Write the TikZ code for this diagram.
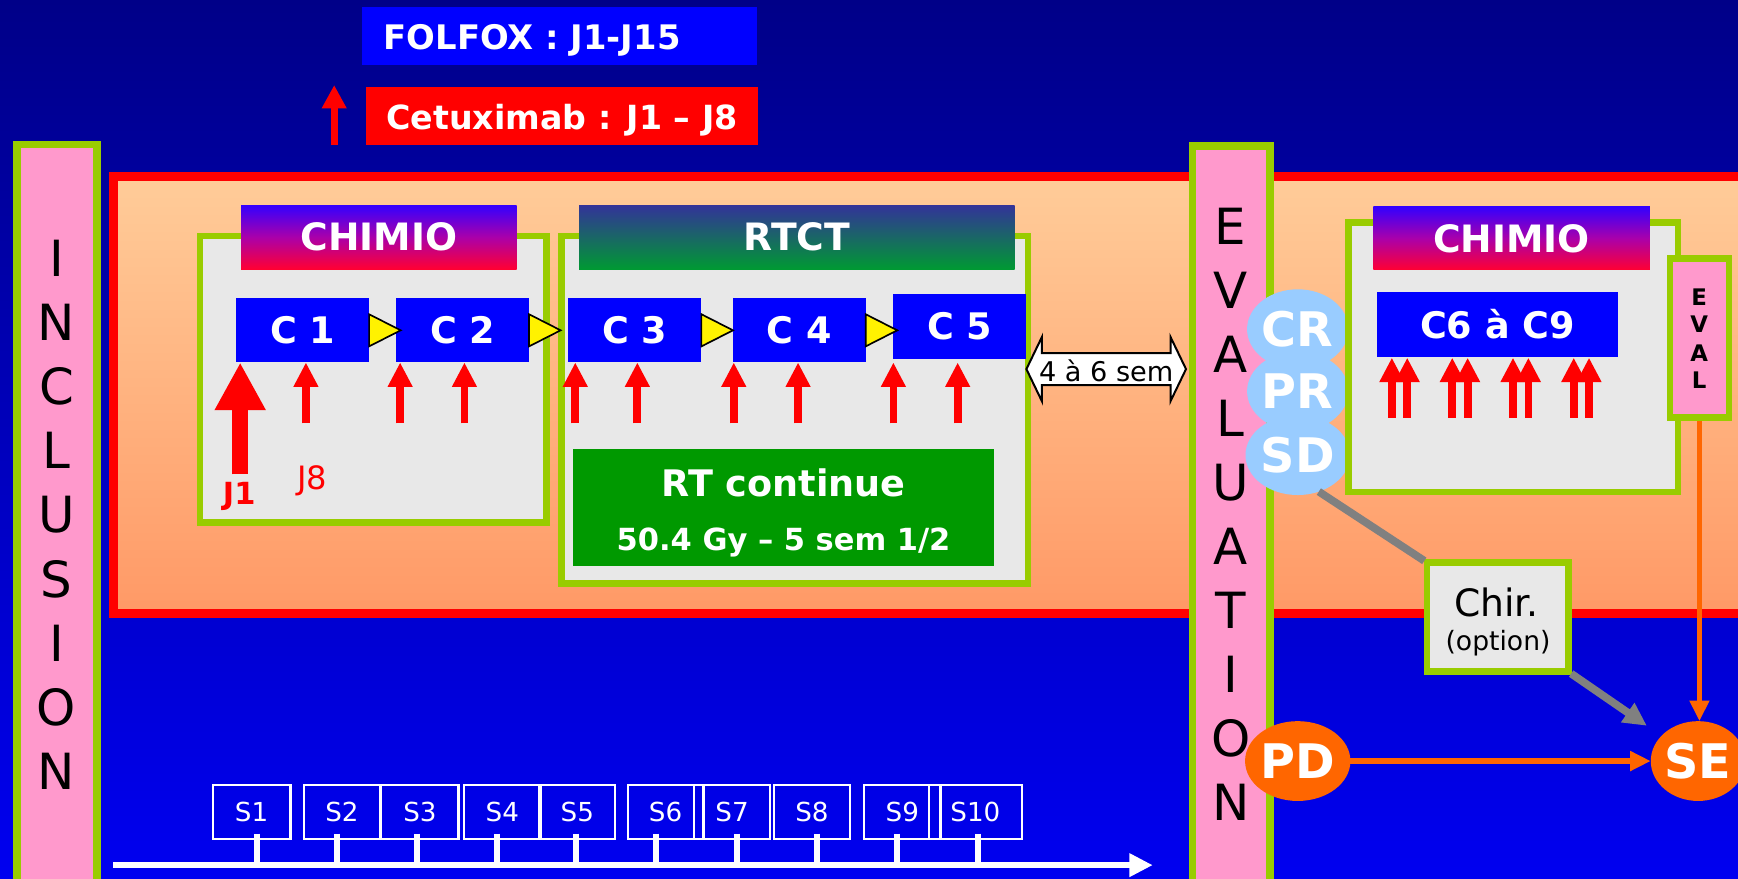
\documentclass[tikz,border=0pt]{standalone}
\usepackage{fontspec}
\setmainfont{DejaVu Sans}
\usetikzlibrary{arrows.meta,shapes.geometric,calc}
\newcommand\setfs[1]{\fontsize{#1}{#1}\selectfont}
\definecolor{bgtop}{RGB}{0,0,136}
\definecolor{bgbot}{RGB}{0,0,240}
\definecolor{peachtop}{RGB}{255,204,153}
\definecolor{peachbot}{RGB}{255,153,102}
\definecolor{lgray}{RGB}{232,232,232}
\definecolor{grn}{RGB}{153,204,0}
\definecolor{pnk}{RGB}{255,153,204}
\definecolor{cblue}{RGB}{0,0,255}
\definecolor{rtgreen}{RGB}{0,153,0}
\definecolor{lblue}{RGB}{153,204,255}
\definecolor{orng}{RGB}{255,102,0}
\definecolor{chtop}{RGB}{51,0,255}
\definecolor{chmid}{RGB}{170,0,170}
\definecolor{chbot}{RGB}{255,0,51}
\definecolor{rttop}{RGB}{51,51,153}
\definecolor{rtbot}{RGB}{0,153,51}
\definecolor{grayc}{RGB}{128,128,128}
\begin{document}
\begin{tikzpicture}[x=1pt,y=-1pt,
  every node/.style={outer sep=0pt},
  colbox/.style={draw=grn, line width=7pt, fill=pnk, inner sep=0pt},
  graybox/.style={draw=grn, line width=6pt, fill=lgray, inner sep=0pt},
  cbox/.style={fill=cblue, text=white, font=\setfs{33}\bfseries, inner sep=0pt, minimum width=120pt, minimum height=58pt},
  chtitle/.style={top color=chtop, bottom color=chbot, middle color=chmid, text=white, font=\setfs{34}\bfseries, inner sep=0pt},
  rttitle/.style={top color=rttop, bottom color=rtbot, text=white, font=\setfs{34}\bfseries, inner sep=0pt},
  tri/.style={draw=black, line width=1.5pt, fill=yellow, line join=miter},
  redarr/.style={draw=red, line width=7pt, -{Triangle[width=21pt,length=22pt]}},
  bigredarr/.style={draw=red, line width=14.4pt, -{Triangle[width=43pt,length=43pt]}},
  bigletter/.style={font=\setfs{45}, text=black, inner sep=0pt},
  bubble/.style={ellipse, fill=lblue, text=white, font=\setfs{43}\bfseries, minimum width=85.4pt, minimum height=72pt, inner sep=0pt},
  obubble/.style={bubble, fill=orng},
  orarr/.style={draw=orng, line width=5pt, -{Triangle[width=17pt,length=18.6pt]}},
  grayline/.style={draw=grayc, line width=7pt},
  grayarr/.style={draw=grayc, line width=7pt, -{Triangle[width=20pt,length=21pt]}},
  sbox/.style={draw=white, line width=2pt, text=white, font=\setfs{23.6}, inner sep=0pt, minimum height=49pt},
  tickline/.style={draw=white, line width=5.5pt},
]
\useasboundingbox (0,0) rectangle (1568,793);
\clip (0,0) rectangle (1568,793);
\shade[top color=bgtop,bottom color=bgbot] (0,0) rectangle (1568,793);

% main band
\path[draw=red,line width=8pt,top color=peachtop,bottom color=peachbot] (102.5,159) rectangle (1640,553.6);

% INCLUSION column
\node[colbox, minimum width=72pt, minimum height=690pt, anchor=north] (incl) at (51.5,130.3) {};
\foreach \l [count=\i] in {I,N,C,L,U,S,I,O,N}
  \node[bigletter] (incl\i) at (51, 232.6+57.95*\i-57.95) {\l};

% CHIMIO 1
\node[graybox, minimum width=312.6pt, minimum height=258.6pt] (g1) at (336.7,342.3) {};
\node[chtitle, minimum width=248.5pt, minimum height=57.7pt] (t1) at (341.75,213.85) {CHIMIO};
\node[cbox] (c1) at (273,298) {C 1};
\node[cbox] (c2) at (417.3,298) {C 2};

% RTCT
\node[graybox, minimum width=420.9pt, minimum height=313.6pt] (g2) at (717,369.8) {};
\node[rttitle, minimum width=392.9pt, minimum height=57.7pt] (t2) at (719,213.85) {RTCT};
\node[cbox] (c3) at (572.8,298) {C 3};
\node[cbox] (c4) at (721,298) {C 4};
\node[cbox, minimum height=59pt] (c5) at (865.8,294.5) {C 5};

\foreach \c in {c1,c2,c3,c4}
  \draw[tri] ($(\c.east)+(0,-14.5)$) -- ($(\c.east)+(28.5,0)$) -- ($(\c.east)+(0,14.5)$) -- cycle;

\foreach \x in {276,361,419,519,575,662,720,806,864}
  \draw[redarr] (\x,382) -- (\x,327);
\draw[bigredarr] (216.7,428) -- (216.7,327);
\node[anchor=base, text=red, font=\setfs{27.5}\bfseries, inner sep=0pt] (j1) at (215.8,454.7) {J1};
\node[anchor=base, text=red, font=\setfs{29}, inner sep=0pt] (j8) at (281.5,442) {J8};

\node[fill=rtgreen, minimum width=380.2pt, minimum height=106pt, inner sep=0pt] (rt) at (706.9,458) {};
\node[text=white, font=\setfs{33}\bfseries, inner sep=0pt] (rt1) at (706.9,435.2) {RT continue};
\node[anchor=base, text=white, font=\setfs{27.5}\bfseries, inner sep=0pt] (rt2) at (706.9,496.4) {50.4 Gy – 5 sem 1/2};

% gap arrow
\draw[line width=1.8pt, fill=white, line join=miter] (926,333) -- (940,304) -- (940,318.5) -- (1056,318.5) -- (1056,304) -- (1070,333) -- (1056,362) -- (1056,347.5) -- (940,347.5) -- (940,362) -- cycle;
\node[font=\setfs{24.5}, inner sep=0pt] (gap) at (998,334.5) {4 à 6 sem};

% EVALUATION column
\node[colbox, minimum width=69.6pt, minimum height=680pt, anchor=north] (evalcol) at (1110.7,131.5) {};
\foreach \l [count=\i] in {E,V,A,L,U,A,T,I,O,N}
  \node[bigletter] (ev\i) at (1110.3, 204.5+57.7*\i-57.7) {\l};

\node[bubble] (cr) at (1170.8,297) {CR};
\node[bubble] (pr) at (1170.8,353) {PR};
\node[bubble] (sd) at (1170.8,410.6) {SD};

% CHIMIO 2
\node[graybox, minimum width=297.5pt, minimum height=243pt] (g3) at (1365.25,322.5) {};
\node[chtitle, minimum width=249.5pt, minimum height=57pt] (t3) at (1363.75,215) {CHIMIO};
\node[cbox, minimum width=218pt, minimum height=58pt] (c69) at (1351,292.75) {C6 à C9};
\foreach \x in {1255.7,1269.6,1310.2,1324.1,1365,1378.9,1419.8,1433.6}
  \draw[redarr] (\x,377) -- (\x,322.7);

% EVAL box
\node[colbox, line width=6pt, minimum width=53.2pt, minimum height=143.5pt] (eval) at (1533.2,304.75) {};
\foreach \l/\y in {E/267.7,V/292.5,A/318.5,L/343}
  \node[font=\setfs{20.6}\bfseries, inner sep=0pt] (eval\l) at (1533,\y) {\l};

% Chir
\node[graybox, minimum width=127.5pt, minimum height=98.4pt] (chir) at (1351.25,556.8) {};
\node[font=\setfs{34}, inner sep=0pt] (chir1) at (1350,543.3) {Chir.};
\node[font=\setfs{24}, inner sep=0pt] (chir2) at (1351.5,580.5) {(option)};

\node[obubble] (pd) at (1170.8,686.6) {PD};
\node[obubble] (se) at (1532,686.6) {SE};

\draw[grayline, shorten >=3pt] (sd.-60) -- (chir.north west);
\draw[grayarr, shorten >=16pt, shorten <=3pt] (chir.south east) -- (se);
\draw[orarr] (pd) -- (se);
\draw[orarr, shorten <=3pt] (eval.south) -- (eval.south |- se.north);

% timeline
\coordinate (tls) at (102,780.5);
\coordinate (tle) at (1040,780.5);
\draw[white, line width=6pt, -{Triangle[length=21pt,width=20pt]}] (tls) -- (tle);
\foreach \n/\cx/\w in {1/227/70, 2/308.5/69, 3/378.8/69.6, 4/453.2/68.8, 5/520.8/68.5, 6/600.5/68.3, 7/660.5/69, 8/732.5/69, 9/814/69, 10/880/84}
  \node[sbox, minimum width=\w pt] (s\n) at (\cx,732.5) {S\n};
\foreach \x in {232,304,376,448,520,592,665,737,809,882}
  \draw[tickline] (\x,752) -- (\x,778);

% legend
\node[fill=cblue, minimum width=355.8pt, minimum height=52.6pt, inner sep=0pt] (folfox) at (504.7,32.3) {};
\node[anchor=base west, text=white, font=\setfs{30.5}\bfseries, inner sep=0pt] (folfoxt) at (346.2,44.5) {FOLFOX : J1-J15};
\node[fill=red, minimum width=353.6pt, minimum height=52pt, inner sep=0pt] (cetux) at (506.8,104.8) {};
\node[anchor=base west, text=white, font=\setfs{30}\bfseries, inner sep=0pt] (cetuxt) at (348.5,116.7) {Cetuximab : J1 – J8};
\draw[red, line width=6.4pt, -{Triangle[width=21pt,length=21pt]}] (301.5,130.8) -- (301.5,76.7);
\end{tikzpicture}
\end{document}
